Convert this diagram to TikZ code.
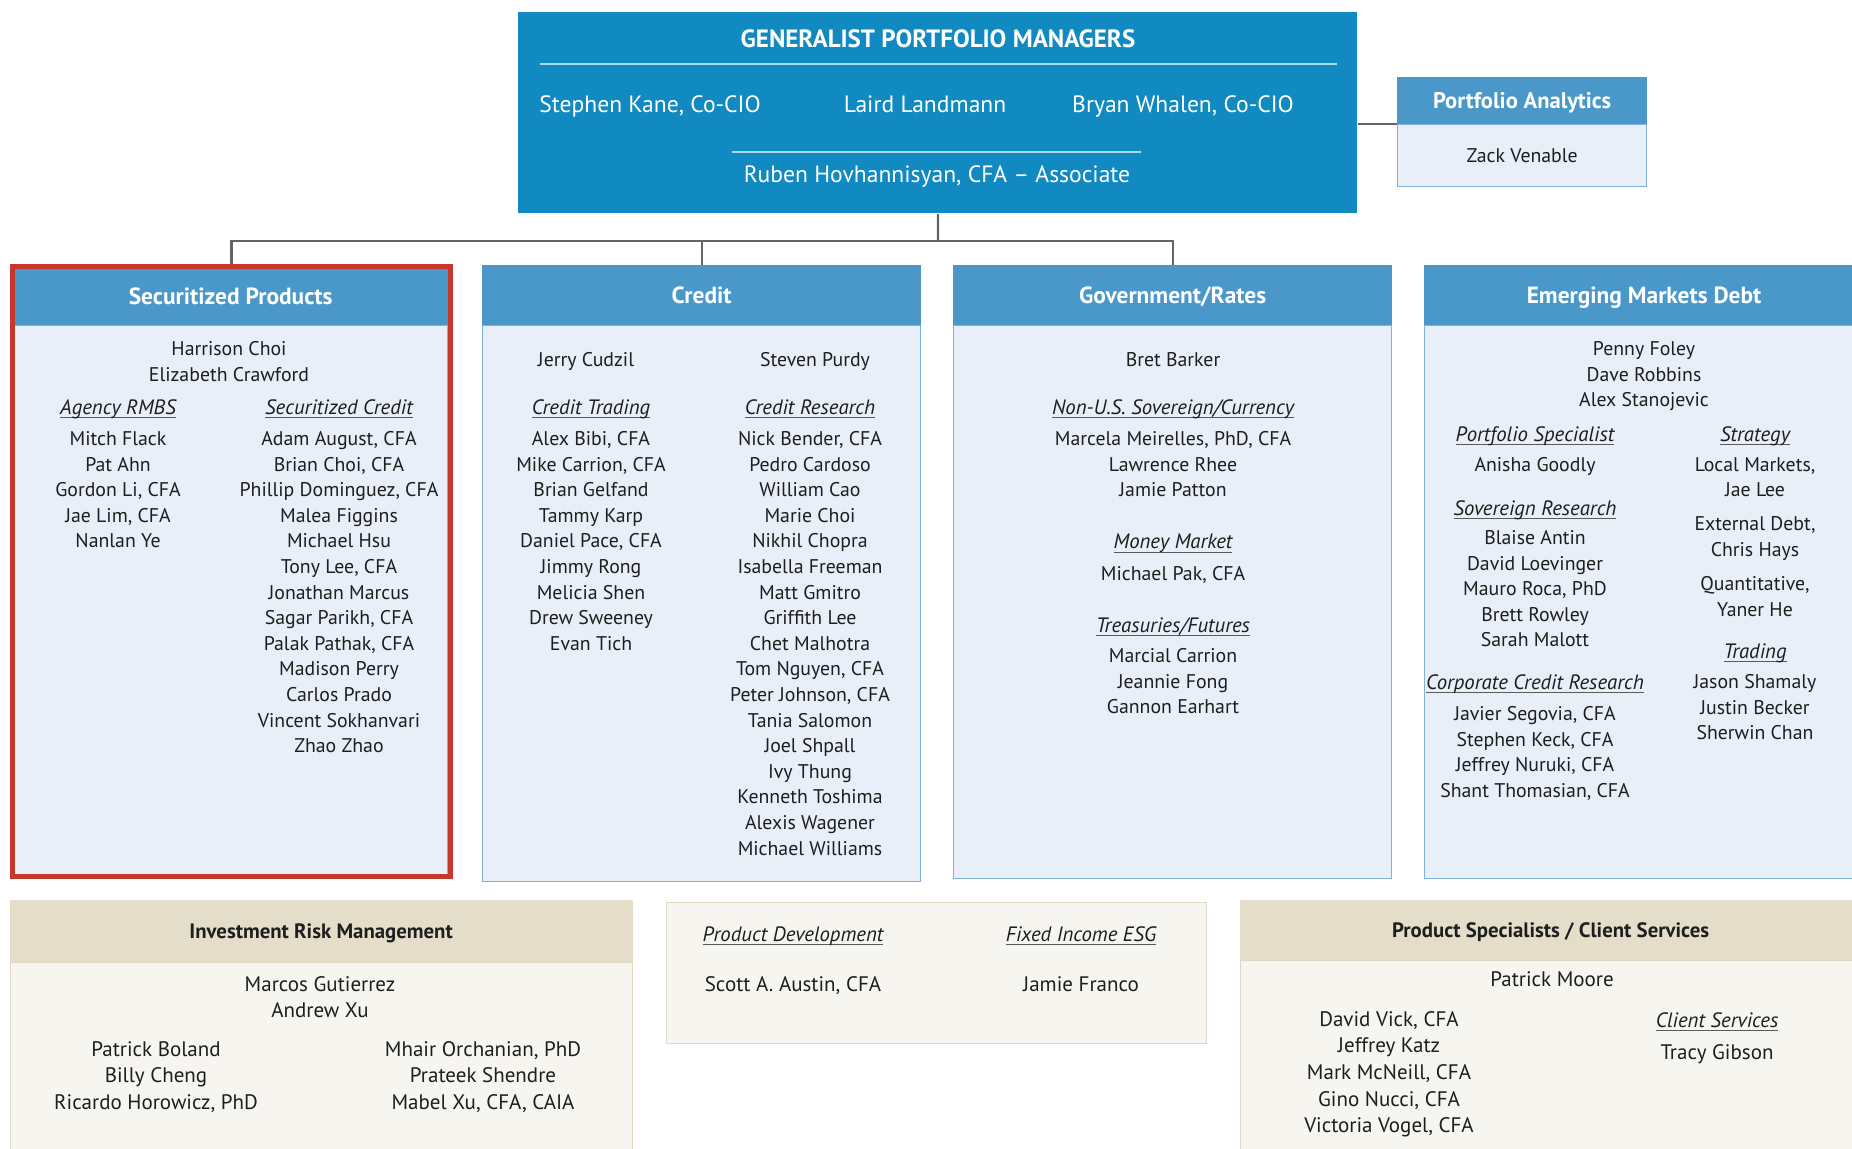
\documentclass[tikz,border=0pt]{standalone}
\usepackage{fontspec}
\setmainfont{PT Sans}
\definecolor{gpmblue}{RGB}{17,138,193}
\definecolor{headblue}{RGB}{74,152,202}
\definecolor{bodyblue}{RGB}{232,239,248}
\definecolor{edgeblue}{RGB}{125,178,218}
\definecolor{redline}{RGB}{200,55,45}
\definecolor{tanhead}{RGB}{227,221,202}
\definecolor{tanbody}{RGB}{246,245,240}
\definecolor{tanedge}{RGB}{222,216,196}
\definecolor{ink}{RGB}{30,30,30}
\definecolor{wiregray}{RGB}{100,100,100}
\definecolor{paleline}{RGB}{170,215,235}
\definecolor{rulegray}{RGB}{90,90,90}
% italic heading with a thin rule close under the baseline
\newcommand\subhead[1]{\setbox0\hbox{\fontsize{10.4}{12}\selectfont\itshape #1}\rlap{\color{rulegray}\vrule height -1.3pt depth 2.1pt width \wd0}\box0}
\begin{document}
\begin{tikzpicture}[x=0.5pt, y=-0.5pt,
	wire/.style={draw=wiregray, line width=1.1pt},
	head/.style={anchor=north west, fill=headblue, draw=headblue, line width=0.6pt, minimum width=219pt, minimum height=29.5pt, inner sep=0pt},
	body/.style={anchor=north west, fill=bodyblue, draw=edgeblue, line width=0.6pt, minimum width=219pt, inner sep=0pt},
	tanhd/.style={anchor=north west, fill=tanhead, draw=tanhead, line width=0.6pt, inner sep=0pt},
	tanbd/.style={anchor=north west, fill=tanbody, draw=tanedge, line width=0.6pt, inner sep=0pt},
	ttl/.style={text=white, font=\bfseries\fontsize{11.7}{13}\selectfont, inner sep=0pt, text height=8.2pt, text depth=0pt},
	ttlk/.style={ttl, text=ink, font=\bfseries\fontsize{10.4}{12}\selectfont, text height=7.3pt},
	gpmtxt/.style={text=white, font=\fontsize{11.8}{14}\selectfont, inner sep=0pt, text height=8.3pt, text depth=0pt},
	nm/.style={anchor=north, align=center, inner sep=0pt, text=ink, font=\fontsize{9.9}{12.8}\selectfont},
	nmb/.style={nm, font=\fontsize{10.5}{13.3}\selectfont}]
	\useasboundingbox (0,0) rectangle (1852,1148);
	\clip (0,0) rectangle (1852,1148);

	% managers on top
	\node[anchor=north west, fill=gpmblue, minimum width=419.5pt, minimum height=100.5pt, inner sep=0pt] (gpm) at (518,12) {};
	\node[gpmtxt, font=\bfseries\fontsize{12.5}{14}\selectfont] (gpmt) at (938,39) {GENERALIST PORTFOLIO MANAGERS};
	\draw[paleline, line width=0.9pt] (540,64) -- (1337,64);
	\node[gpmtxt] (pm1) at (650,104) {Stephen Kane, Co-CIO};
	\node[gpmtxt] (pm2) at (925,104) {Laird Landmann};
	\node[gpmtxt] (pm3) at (1183,104) {Bryan Whalen, Co-CIO};
	\draw[paleline, line width=0.9pt] (732,152) -- (1141,152);
	\node[gpmtxt] (pm4) at (937,174) {Ruben Hovhannisyan, CFA -- Associate};

	\node[head, minimum width=124.5pt, minimum height=23pt] (pah) at (1397,77) {};
	\node[body, minimum width=124.5pt, minimum height=31pt] (pab) at (pah.south west) {};
	\node[ttl, font=\bfseries\fontsize{11.3}{13}\selectfont] (pat) at (pah.center) {Portfolio Analytics};
	\node[nm, anchor=center, text height=7pt, text depth=0pt] (pan) at (pab.center) {Zack Venable};

	% sector boxes
	\node[head, minimum width=217pt, minimum height=28.5pt] (sech) at (13,267) {};
	\node[body, minimum width=217pt, minimum height=274.5pt] (secb) at (sech.south west) {};
	\node[anchor=north west, draw=redline, line width=2.5pt, minimum width=219pt, minimum height=305pt, inner sep=0pt] (secf) at (10,264) {};
	\node[head] (credh) at (482,265) {};
	\node[body, minimum height=278pt] (credb) at (credh.south west) {};
	\node[head] (govh) at (953,265) {};
	\node[body, minimum height=276.5pt] (govb) at (govh.south west) {};
	\node[head] (emdh) at (1424,265) {};
	\node[body, minimum height=276.5pt] (emdb) at (emdh.south west) {};

	\coordinate (bus) at (938,241);
	\draw[wire] (gpm.south) -- (bus);
	\draw[wire] (secf.north) |- (bus) -| (govh.north);
	\draw[wire] (credh.north) -- (credh.north |- bus);
	\draw[wire] (pah.south west) -- (pah.south west -| gpm.east);

	% Securitized Products
	\node[ttl] (sect) at (sech.center) {Securitized Products};
	\node[nm] (seclead) at (229,341) {Harrison Choi\\Elizabeth Crawford};
	\node[nm] (secag) at (118,399) {\subhead{Agency RMBS}};
	\node[nm] (secagn) at (118,431) {Mitch Flack\\Pat Ahn\\Gordon Li, CFA\\Jae Lim, CFA\\Nanlan Ye};
	\node[nm] (secsc) at (339,399) {\subhead{Securitized Credit}};
	\node[nm] (secscn) at (339,431) {Adam August, CFA\\Brian Choi, CFA\\Phillip Dominguez, CFA\\Malea Figgins\\Michael Hsu\\Tony Lee, CFA\\Jonathan Marcus\\Sagar Parikh, CFA\\Palak Pathak, CFA\\Madison Perry\\Carlos Prado\\Vincent Sokhanvari\\Zhao Zhao};

	% Credit
	\node[ttl] (credt) at (credh.center) {Credit};
	\node[nm] (credl1) at (586,352) {Jerry Cudzil};
	\node[nm] (credl2) at (815,352) {Steven Purdy};
	\node[nm] (credtr) at (591,399) {\subhead{Credit Trading}};
	\node[nm] (credtrn) at (591,431) {Alex Bibi, CFA\\Mike Carrion, CFA\\Brian Gelfand\\Tammy Karp\\Daniel Pace, CFA\\Jimmy Rong\\Melicia Shen\\Drew Sweeney\\Evan Tich};
	\node[nm] (credre) at (810,399) {\subhead{Credit Research}};
	\node[nm] (credren) at (810,431) {Nick Bender, CFA\\Pedro Cardoso\\William Cao\\Marie Choi\\Nikhil Chopra\\Isabella Freeman\\Matt Gmitro\\Griffith Lee\\Chet Malhotra\\Tom Nguyen, CFA\\Peter Johnson, CFA\\Tania Salomon\\Joel Shpall\\Ivy Thung\\Kenneth Toshima\\Alexis Wagener\\Michael Williams};

	% Government/Rates
	\node[ttl] (govt) at (govh.center) {Government/Rates};
	\node[nm] (govlead) at (1173,352) {Bret Barker};
	\node[nm] (govns) at (1173,399) {\subhead{Non-U.S. Sovereign/Currency}};
	\node[nm] (govnsn) at (1173,431) {Marcela Meirelles, PhD, CFA\\Lawrence Rhee\\Jamie Patton};
	\node[nm] (govmm) at (1173,534) {\subhead{Money Market}};
	\node[nm] (govmmn) at (1173,566) {Michael Pak, CFA};
	\node[nm] (govtf) at (1173,617) {\subhead{Treasuries/Futures}};
	\node[nm] (govtfn) at (1173,648) {Marcial Carrion\\Jeannie Fong\\Gannon Earhart};

	% Emerging Markets Debt
	\node[ttl] (emdt) at (1644,295) {Emerging Markets Debt};
	\node[nm] (emdlead) at (1644,341) {Penny Foley\\Dave Robbins\\Alex Stanojevic};
	\node[nm] (emdps) at (1535,426) {\subhead{Portfolio Specialist}};
	\node[nm] (emdpsn) at (1535,457) {Anisha Goodly};
	\node[nm] (emdsr) at (1535,500) {\subhead{Sovereign Research}};
	\node[nm] (emdsrn) at (1535,530) {Blaise Antin\\David Loevinger\\Mauro Roca, PhD\\Brett Rowley\\Sarah Malott};
	\node[nm] (emdcc) at (1535,674) {\subhead{Corporate Credit Research}};
	\node[nm] (emdccn) at (1535,706) {Javier Segovia, CFA\\Stephen Keck, CFA\\Jeffrey Nuruki, CFA\\Shant Thomasian, CFA};
	\node[nm] (emdst) at (1755,426) {\subhead{Strategy}};
	\node[nm] (emdst1) at (1755,457) {Local Markets,\\Jae Lee};
	\node[nm] (emdst2) at (1755,516) {External Debt,\\Chris Hays};
	\node[nm] (emdst3) at (1755,576) {Quantitative,\\Yaner He};
	\node[nm] (emdtr) at (1755,643) {\subhead{Trading}};
	\node[nm] (emdtrn) at (1755,674) {Jason Shamaly\\Justin Becker\\Sherwin Chan};

	% bottom row
	\node[tanhd, minimum width=311pt, minimum height=30.5pt] (irmh) at (9.5,900) {};
	\node[tanbd, minimum width=311pt, minimum height=100pt] (irmb) at (irmh.south west) {};
	\node[ttlk] (irmt) at (irmh.center) {Investment Risk Management};
	\node[nmb] (irmlead) at (320,976) {Marcos Gutierrez\\Andrew Xu};
	\node[nmb] (irml) at (156,1041) {Patrick Boland\\Billy Cheng\\Ricardo Horowicz, PhD};
	\node[nmb] (irmr) at (483,1041) {Mhair Orchanian, PhD\\Prateek Shendre\\Mabel Xu, CFA, CAIA};

	\node[tanbd, minimum width=270pt, minimum height=70.5pt] (mid) at (666,902) {};
	\node[nmb] (pdh) at (793,926) {\subhead{Product Development}};
	\node[nmb] (pdn) at (793,976) {Scott A. Austin, CFA};
	\node[nmb] (esgh) at (1081,926) {\subhead{Fixed Income ESG}};
	\node[nmb] (esgn) at (1081,976) {Jamie Franco};

	\node[tanhd, minimum width=310pt, minimum height=29.5pt] (psh) at (1240,900) {};
	\node[tanbd, minimum width=310pt, minimum height=100pt] (psb) at (psh.south west) {};
	\node[ttlk] (pst) at (psh.center) {Product Specialists / Client Services};
	\node[nmb] (pslead) at (1552,971) {Patrick Moore};
	\node[nmb] (psl) at (1389,1011) {David Vick, CFA\\Jeffrey Katz\\Mark McNeill, CFA\\Gino Nucci, CFA\\Victoria Vogel, CFA};
	\node[nmb] (cssh) at (1717,1012) {\subhead{Client Services}};
	\node[nmb] (cssn) at (1717,1044) {Tracy Gibson};
\end{tikzpicture}
\end{document}
